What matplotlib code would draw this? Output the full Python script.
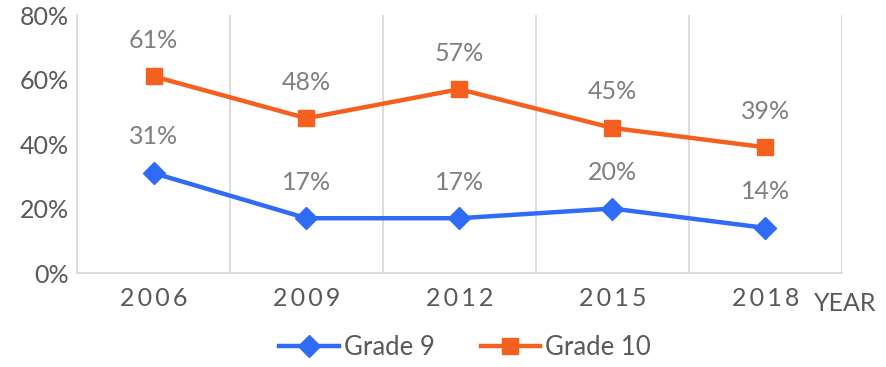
import matplotlib
matplotlib.use('agg')
import matplotlib.pyplot as plt
from matplotlib.ticker import FuncFormatter

years = ["2006", "2009", "2012", "2015", "2018"]
grade9 = [31, 17, 17, 20, 14]
grade10 = [61, 48, 57, 45, 39]

plt.rcParams['font.family'] = ['Lato', 'DejaVu Sans']
gray = "#595959"
blue = "#2F6BF5"
orange = "#F5601F"

fig = plt.figure(figsize=(8.86, 3.67), dpi=100)
ax = fig.add_axes([0.087, 0.256, 0.863, 0.703])

x = list(range(len(years)))
ax.plot(x, grade9, color=blue, linewidth=3.2, marker="D", markersize=11, label="Grade 9")
ax.plot(x, grade10, color=orange, linewidth=3.2, marker="s", markersize=12, label="Grade 10")

for i in x:
    ax.annotate(f"{grade9[i]}%", (i, grade9[i]), xytext=(0, 26), textcoords="offset points",
                ha="center", va="center", fontsize=18, color="#7f7f7f")
    ax.annotate(f"{grade10[i]}%", (i, grade10[i]), xytext=(0, 26), textcoords="offset points",
                ha="center", va="center", fontsize=18, color="#7f7f7f")

ax.set_xlim(-0.5, len(years) - 0.5)
ax.set_ylim(0, 80)
ax.set_yticks([0, 20, 40, 60, 80])
ax.yaxis.set_major_formatter(FuncFormatter(lambda v, p: f"{int(v)}%"))
ax.set_xticks(x)
ax.set_xticklabels(["\u2009".join(y) for y in years])
ax.tick_params(axis="both", length=0, labelsize=18, labelcolor=gray)
ax.tick_params(axis="x", pad=10)
ax.tick_params(axis="y", pad=6)

for b in [k + 0.5 for k in range(len(years))]:
    ax.axvline(b, color="#d9d9d9", linewidth=1.3, zorder=0)
for s in ["top", "right"]:
    ax.spines[s].set_visible(False)
for s in ["left", "bottom"]:
    ax.spines[s].set_color("#d9d9d9")
    ax.spines[s].set_linewidth(1.3)

fig.text(0.919, 0.172, "YEAR", fontsize=18, color=gray, ha="left", va="center")

fig.legend(loc="lower center", bbox_to_anchor=(0.525, -0.045), ncol=2, frameon=False,
           fontsize=18.5, labelcolor=gray, handlelength=2.3, handletextpad=0.2, columnspacing=1.8)

plt.savefig("out.png", dpi=100)
